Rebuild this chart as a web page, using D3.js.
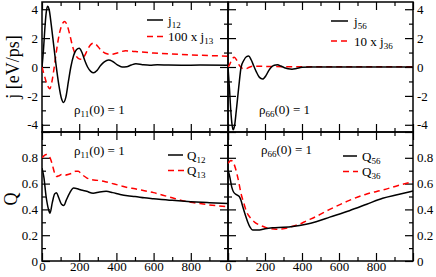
<!DOCTYPE html>
<html lang="en">
<head>
<meta charset="UTF-8">
<title>j and Q</title>
<script src="https://cdn.jsdelivr.net/npm/d3@7/dist/d3.min.js"></script>
<style>
  body { margin: 0; background: #fff; }
  svg { display: block; font-family: "Liberation Serif", "DejaVu Serif", serif; }
  .frame { fill: none; stroke: #000; stroke-width: 1.5px; }
  .tick line { stroke: #000; stroke-width: 1.2px; }
  .tick text { font-size: 13px; fill: #000; font-family: "Liberation Serif", serif; }
  .curve { fill: none; stroke-width: 1.5px; }
  .lbl { font-size: 13px; fill: #000; }
</style>
</head>
<body>
<div id="chart"></div>
<script>
// time in fs, currents in eV/ps, Q dimensionless
const t12 = [0, 8, 15, 22, 30, 38, 50, 62, 75, 90, 105, 115, 128, 142, 155, 170, 185, 200, 215, 230, 245, 262, 278, 295, 315, 335, 358, 380, 405, 430, 455, 480, 505, 540, 580, 620, 680, 750, 850, 1000];
const j12 = [0, 1.2, 2.6, 3.7, 4.2, 4.0, 2.9, 1.6, 0.2, -1.2, -2.2, -2.45, -2.1, -1.0, 0.0, 0.8, 1.2, 1.3, 1.0, 0.45, 0.0, -0.3, -0.4, -0.25, 0.1, 0.35, 0.48, 0.38, 0.15, 0.0, 0.02, 0.14, 0.22, 0.16, 0.12, 0.15, 0.13, 0.12, 0.13, 0.12];

const t13 = [0, 15, 30, 42, 55, 68, 80, 95, 110, 122, 135, 150, 165, 180, 195, 212, 228, 245, 262, 278, 295, 315, 340, 370, 400, 430, 450, 480, 520, 600, 700, 800, 900, 1000];
const j13x100 = [0, -0.7, -1.3, -1.5, -0.9, 0.2, 1.3, 2.4, 3.0, 3.15, 2.9, 2.2, 1.4, 0.85, 0.6, 0.53, 0.75, 1.2, 1.55, 1.65, 1.5, 1.2, 0.95, 0.87, 0.95, 1.08, 1.12, 1.1, 1.05, 0.97, 0.9, 0.84, 0.79, 0.75];

const t56 = [0, 8, 15, 22, 28, 35, 45, 58, 71, 85, 100, 112, 125, 140, 152, 170, 187, 205, 220, 235, 250, 268, 285, 305, 325, 346, 370, 400, 450, 500, 1000];
const j56 = [0, -1.5, -3.0, -4.0, -4.35, -4.1, -3.0, -1.4, 0.0, 0.45, 0.72, 0.76, 0.5, 0.05, -0.3, -0.72, -0.83, -0.6, -0.25, 0.0, 0.12, 0.15, 0.07, -0.05, -0.12, -0.15, -0.1, -0.02, 0.0, 0.0, 0.0];

const t36 = [0, 10, 20, 34, 48, 62, 80, 97, 115, 135, 170, 250, 400, 1000];
const j36x10 = [0, 0.2, 0.5, 0.67, 0.45, 0.1, -0.1, -0.12, -0.02, 0.05, 0.05, 0.03, 0.02, 0.02];

const tQ12 = [0, 10, 22, 35, 43, 55, 68, 78, 90, 105, 118, 130, 150, 170, 190, 210, 240, 275, 310, 345, 380, 420, 460, 500, 550, 600, 700, 750, 800, 900, 1000];
const q12 = [0.72, 0.65, 0.5, 0.4, 0.37, 0.45, 0.52, 0.53, 0.49, 0.44, 0.43, 0.47, 0.53, 0.565, 0.56, 0.55, 0.54, 0.525, 0.535, 0.54, 0.53, 0.515, 0.505, 0.5, 0.49, 0.483, 0.47, 0.465, 0.46, 0.452, 0.445];

const tQ13 = [0, 10, 25, 40, 55, 68, 78, 90, 105, 120, 140, 160, 180, 195, 215, 240, 270, 300, 340, 380, 420, 460, 500, 550, 600, 650, 700, 750, 800, 850, 900, 950, 1000];
const q13 = [0.8, 0.815, 0.825, 0.81, 0.75, 0.68, 0.655, 0.66, 0.67, 0.665, 0.67, 0.68, 0.695, 0.695, 0.67, 0.645, 0.63, 0.625, 0.615, 0.6, 0.585, 0.57, 0.56, 0.545, 0.53, 0.51, 0.49, 0.47, 0.455, 0.445, 0.435, 0.427, 0.42];

const tQ56 = [0, 10, 20, 30, 45, 61, 70, 80, 95, 106, 120, 133, 170, 200, 240, 300, 350, 422, 476, 550, 656, 750, 836, 920, 1000];
const q56 = [0.705, 0.65, 0.575, 0.535, 0.515, 0.5, 0.47, 0.42, 0.35, 0.305, 0.26, 0.24, 0.24, 0.25, 0.258, 0.262, 0.268, 0.285, 0.305, 0.34, 0.39, 0.44, 0.486, 0.515, 0.543];

const tQ36 = [0, 16, 30, 43, 57, 70, 85, 97, 110, 124, 145, 169, 200, 223, 260, 290, 320, 350, 385, 422, 476, 550, 656, 750, 836, 920, 1000];
const q36 = [0.757, 0.78, 0.76, 0.705, 0.62, 0.525, 0.45, 0.395, 0.355, 0.33, 0.3, 0.28, 0.262, 0.253, 0.246, 0.248, 0.255, 0.27, 0.285, 0.31, 0.345, 0.4, 0.47, 0.52, 0.55, 0.585, 0.615];

const tMajor = [0, 200, 400, 600, 800, 1000];
const tMinor = [100, 300, 500, 700, 900];
const jMajor = [-4, -2, 0, 2, 4];
const jMinor = [-3, -1, 1, 3];
const qMajor = [0, 0.2, 0.4, 0.6, 0.8, 1.0];
const qMinor = [0.1, 0.3, 0.5, 0.7, 0.9];

const svg = d3.select("#chart").append("svg")
    .attr("width", 436)
    .attr("height", 277);

const xLeft = d3.scaleLinear().domain([0, 1000]).range([42, 228]);
const xRight = d3.scaleLinear().domain([0, 1000]).range([228, 413]);
const yJ = d3.scaleLinear().domain([-4.5, 4.5]).range([132, 2]);
const yQ = d3.scaleLinear().domain([0, 1]).range([261, 132]);

const fmtJ = d => d < 0 ? "-" + Math.abs(d) : String(d);
const fmtQ = d => d === 0 ? "0" : (d >= 0.99 ? "" : d.toFixed(1));
const fmtT = d => d >= 1000 ? "" : String(d);

let clipId = 0;

function panel(x, y, yMajor, yMinor, yFmt, side, xLabels) {
    const g = svg.append("g");
    const [x0, x1] = x.range();
    const [y1, y0] = y.range();

    // ticks, all pointing inward
    const axes = [
        [d3.axisBottom(x).tickValues(tMajor).tickSizeInner(-8), y1, 0, xLabels ? fmtT : ""],
        [d3.axisBottom(x).tickValues(tMinor).tickSizeInner(-4), y1, 0, ""],
        [d3.axisTop(x).tickValues(tMajor).tickSizeInner(-8), y0, 0, ""],
        [d3.axisTop(x).tickValues(tMinor).tickSizeInner(-4), y0, 0, ""],
        [d3.axisLeft(y).tickValues(yMajor).tickSizeInner(-8), 0, x0, side === "left" ? yFmt : ""],
        [d3.axisLeft(y).tickValues(yMinor).tickSizeInner(-4), 0, x0, ""],
        [d3.axisRight(y).tickValues(yMajor).tickSizeInner(-8), 0, x1, side === "right" ? yFmt : ""],
        [d3.axisRight(y).tickValues(yMinor).tickSizeInner(-4), 0, x1, ""]
    ];
    axes.forEach(([ax, ty, tx, f]) => {
        ax.tickSizeOuter(0).tickFormat(f === "" ? () => "" : f);
        if (ty) ax.tickPadding(1); else ax.tickPadding(4);
        const a = g.append("g").attr("transform", `translate(${tx},${ty})`).call(ax);
        a.select(".domain").remove();
        a.attr("font-family", null).attr("font-size", null);
    });

    const id = "clip" + (clipId++);
    svg.append("clipPath").attr("id", id).append("rect")
        .attr("x", x0).attr("y", y0).attr("width", x1 - x0).attr("height", y1 - y0);

    g.append("rect").attr("class", "frame")
        .attr("x", x0).attr("y", y0).attr("width", x1 - x0).attr("height", y1 - y0);

    return { g: g.append("g").attr("clip-path", `url(#${id})`), x, y };
}

function curve(p, ts, vs, color, dashed) {
    const line = d3.line()
        .x((d, i) => p.x(ts[i]))
        .y(d => p.y(d))
        .curve(d3.curveMonotoneX);
    p.g.append("path")
        .attr("class", "curve")
        .attr("d", line(vs))
        .attr("stroke", color)
        .attr("stroke-dasharray", dashed ? "6,4" : null);
}

function subText(x, y, main, sub, tail, size, subSize) {
    const t = svg.append("text").attr("class", "lbl").attr("x", x).attr("y", y)
        .attr("font-size", size + "px");
    t.append("tspan").text(main);
    t.append("tspan").attr("dy", 3).attr("font-size", subSize + "px").text(sub);
    if (tail) t.append("tspan").attr("dy", -3).text(tail);
}

function legendItem(x1, x2, y, tx, color, dashed, main, sub) {
    svg.append("line")
        .attr("x1", x1).attr("x2", x2).attr("y1", y).attr("y2", y)
        .attr("stroke", color).attr("stroke-width", 1.5)
        .attr("stroke-dasharray", dashed ? "6,4" : null);
    subText(tx, y + 4.5, main, sub, null, 13, 9);
}

// top row: currents
const pTL = panel(xLeft, yJ, jMajor, jMinor, fmtJ, "left", false);
curve(pTL, t13, j13x100, "#ff0000", true);
curve(pTL, t12, j12, "#000", false);

const pTR = panel(xRight, yJ, jMajor, jMinor, fmtJ, "right", false);
curve(pTR, t36, j36x10, "#ff0000", true);
curve(pTR, t56, j56, "#000", false);

// bottom row: Q
const pBL = panel(xLeft, yQ, qMajor, qMinor, fmtQ, "left", true);
curve(pBL, tQ13, q13, "#ff0000", true);
curve(pBL, tQ12, q12, "#000", false);

const pBR = panel(xRight, yQ, qMajor, qMinor, fmtQ, "right", true);
curve(pBR, tQ36, q36, "#ff0000", true);
curve(pBR, tQ56, q56, "#000", false);

// legends
legendItem(147, 163, 20, 168, "#000", false, "j", "12");
legendItem(147, 165, 36.5, 168, "#ff0000", true, "100 x j", "13");
legendItem(331, 348, 21, 354, "#000", false, "j", "56");
legendItem(331, 348, 41, 354, "#ff0000", true, "10 x j", "36");
legendItem(168, 183, 155, 187, "#000", false, "Q", "12");
legendItem(168, 184, 170.5, 187, "#ff0000", true, "Q", "13");
legendItem(343, 357, 156, 362, "#000", false, "Q", "56");
legendItem(343, 358, 171.5, 362, "#ff0000", true, "Q", "36");

// initial conditions
subText(74, 114, "\u03c1", "11", "(0) = 1", 13, 9);
subText(259, 114, "\u03c1", "66", "(0) = 1", 13, 9);
subText(74, 155, "\u03c1", "11", "(0) = 1", 13, 9);
subText(261, 154, "\u03c1", "66", "(0) = 1", 13, 9);

// y titles
svg.append("text").attr("transform", "translate(13,67) rotate(-90)")
    .attr("text-anchor", "middle").attr("dy", "0.35em")
    .attr("font-size", "18px").text("j [eV/ps]");
svg.append("text").attr("transform", "translate(11,199) rotate(-90)")
    .attr("text-anchor", "middle").attr("dy", "0.35em")
    .attr("font-size", "18px").text("Q");
</script>
</body>
</html>
